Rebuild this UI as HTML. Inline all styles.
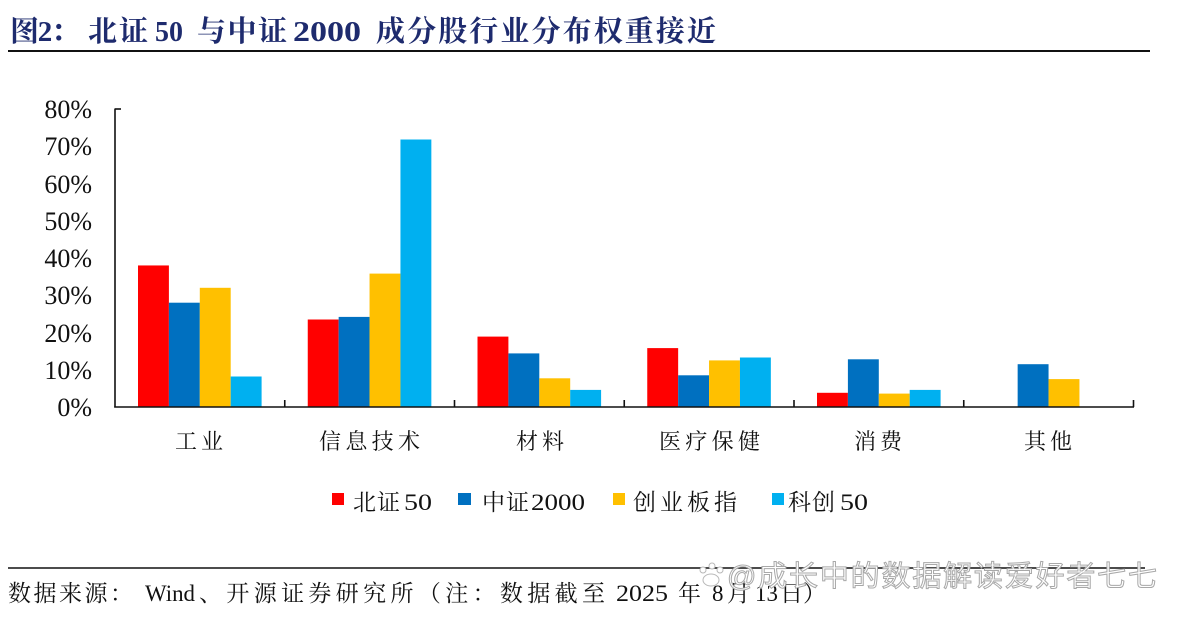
<!DOCTYPE html>
<html>
<head>
<meta charset="utf-8">
<style>
  html, body { margin:0; padding:0; background:#ffffff; }
  svg { display:block; }
  .serif { font-family: "Liberation Serif", "Noto Serif CJK SC", serif; }
  .cjk { font-family: "Liberation Serif", "Noto Serif CJK SC", serif; }
</style>
</head>
<body>
<svg width="1181" height="620" viewBox="0 0 1181 620" xmlns="http://www.w3.org/2000/svg">
  <rect x="0" y="0" width="1181" height="620" fill="#ffffff"/>

  <!-- Title -->
  <g class="cjk" font-size="29" font-weight="bold" fill="#1E2B6E">
    <text x="10" y="41" textLength="70" lengthAdjust="spacing">图2：</text>
    <text x="88" y="41" textLength="60" lengthAdjust="spacing">北证</text>
    <text x="155" y="41" textLength="28" lengthAdjust="spacingAndGlyphs">50</text>
    <text x="197" y="41" textLength="90" lengthAdjust="spacing">与中证</text>
    <text x="293" y="41" textLength="68" lengthAdjust="spacingAndGlyphs">2000</text>
    <text x="376" y="41" textLength="340" lengthAdjust="spacing">成分股行业分布权重接近</text>
  </g>
  <line x1="8" y1="51" x2="1150" y2="51" stroke="#111" stroke-width="2"/>

  <!-- Y axis labels -->
  <g class="serif" font-size="26" fill="#111" text-anchor="end">
    <text x="92" y="118">80%</text>
    <text x="92" y="155">70%</text>
    <text x="92" y="193">60%</text>
    <text x="92" y="230">50%</text>
    <text x="92" y="267">40%</text>
    <text x="92" y="304">30%</text>
    <text x="92" y="342">20%</text>
    <text x="92" y="379">10%</text>
    <text x="92" y="416">0%</text>
  </g>

  <!-- Bars -->
  <g>
    <rect x="138" y="265.45" width="30.9" height="141.55" fill="#FF0000"/>
    <rect x="168.9" y="302.7" width="30.9" height="104.3" fill="#0070C0"/>
    <rect x="199.8" y="287.8" width="30.9" height="119.2" fill="#FFC000"/>
    <rect x="230.7" y="376.5" width="30.9" height="30.5" fill="#00B0F0"/>

    <rect x="307.75" y="319.5" width="30.9" height="87.5" fill="#FF0000"/>
    <rect x="338.65" y="316.9" width="30.9" height="90.1" fill="#0070C0"/>
    <rect x="369.55" y="273.6" width="30.9" height="133.4" fill="#FFC000"/>
    <rect x="400.45" y="139.5" width="30.9" height="267.5" fill="#00B0F0"/>

    <rect x="477.5" y="336.6" width="30.9" height="70.4" fill="#FF0000"/>
    <rect x="508.4" y="353.4" width="30.9" height="53.6" fill="#0070C0"/>
    <rect x="539.3" y="378.3" width="30.9" height="28.7" fill="#FFC000"/>
    <rect x="570.2" y="389.9" width="30.9" height="17.1" fill="#00B0F0"/>

    <rect x="647.25" y="348.1" width="30.9" height="58.9" fill="#FF0000"/>
    <rect x="678.15" y="375.3" width="30.9" height="31.7" fill="#0070C0"/>
    <rect x="709.05" y="360.4" width="30.9" height="46.6" fill="#FFC000"/>
    <rect x="739.95" y="357.5" width="30.9" height="49.5" fill="#00B0F0"/>

    <rect x="817" y="392.8" width="30.9" height="14.2" fill="#FF0000"/>
    <rect x="847.9" y="359.3" width="30.9" height="47.7" fill="#0070C0"/>
    <rect x="878.8" y="393.6" width="30.9" height="13.4" fill="#FFC000"/>
    <rect x="909.7" y="389.9" width="30.9" height="17.1" fill="#00B0F0"/>

    <rect x="1017.65" y="364.2" width="30.9" height="42.8" fill="#0070C0"/>
    <rect x="1048.55" y="379.1" width="30.9" height="27.9" fill="#FFC000"/>
  </g>

  <!-- Axes -->
  <g stroke="#111" stroke-width="1.6" fill="none">
    <line x1="115" y1="108.5" x2="115" y2="407.5"/>
    <line x1="115" y1="109" x2="121" y2="109"/>
    <line x1="114.2" y1="407" x2="1134" y2="407"/>
    <line x1="284.75" y1="400" x2="284.75" y2="407"/>
    <line x1="454.5" y1="400" x2="454.5" y2="407"/>
    <line x1="624.25" y1="400" x2="624.25" y2="407"/>
    <line x1="794" y1="400" x2="794" y2="407"/>
    <line x1="963.75" y1="400" x2="963.75" y2="407"/>
    <line x1="1133.5" y1="400" x2="1133.5" y2="407"/>
  </g>

  <!-- Category labels -->
  <g class="cjk" font-size="22" fill="#111">
    <text x="175" y="449" textLength="48" lengthAdjust="spacing">工业</text>
    <text x="319" y="449" textLength="101" lengthAdjust="spacing">信息技术</text>
    <text x="516" y="449" textLength="48" lengthAdjust="spacing">材料</text>
    <text x="659" y="449" textLength="101" lengthAdjust="spacing">医疗保健</text>
    <text x="854" y="449" textLength="48" lengthAdjust="spacing">消费</text>
    <text x="1024" y="449" textLength="48" lengthAdjust="spacing">其他</text>
  </g>

  <!-- Legend -->
  <g class="cjk" font-size="23" fill="#111">
    <rect x="332" y="493" width="12" height="12" fill="#FF0000"/>
    <text x="353" y="510" textLength="47" lengthAdjust="spacing">北证</text>
    <text x="404" y="510" textLength="28" lengthAdjust="spacingAndGlyphs">50</text>
    <rect x="458" y="493" width="13" height="12" fill="#0070C0"/>
    <text x="482" y="510" textLength="47" lengthAdjust="spacing">中证</text>
    <text x="531" y="510" textLength="54" lengthAdjust="spacingAndGlyphs">2000</text>
    <rect x="613" y="493" width="12" height="12" fill="#FFC000"/>
    <text x="633" y="510" textLength="104" lengthAdjust="spacing">创业板指</text>
    <rect x="772" y="493" width="12" height="12" fill="#00B0F0"/>
    <text x="788" y="510" textLength="47" lengthAdjust="spacing">科创</text>
    <text x="840" y="510" textLength="28" lengthAdjust="spacingAndGlyphs">50</text>
  </g>

  <!-- Footer -->
  <line x1="8" y1="568" x2="1145" y2="568" stroke="#111" stroke-width="1.6"/>
  <g class="cjk" font-size="23" fill="#111">
    <text x="8" y="601" textLength="125" lengthAdjust="spacing">数据来源：</text>
    <text x="145" y="601" textLength="50" lengthAdjust="spacingAndGlyphs">Wind</text>
    <text x="199" y="601" textLength="406" lengthAdjust="spacing">、开源证券研究所（注：数据截至</text>
    <text x="616" y="601" textLength="52" lengthAdjust="spacingAndGlyphs">2025</text>
    <text x="678" y="601">年</text>
    <text x="712" y="601">8</text>
    <text x="727" y="601">月</text>
    <text x="755" y="601">13</text>
    <text x="780" y="601">日）</text>
  </g>

  <!-- Watermark -->
  <g fill="#ffffff" stroke="#b8b8b8" stroke-width="1">
    <circle cx="703" cy="570" r="3"/>
    <circle cx="712" cy="566" r="3"/>
    <circle cx="720" cy="570" r="3"/>
    <ellipse cx="711" cy="580" rx="8" ry="6"/>
  </g>
  <text x="727" y="586" font-family="'Liberation Sans', 'Noto Sans CJK SC', sans-serif" font-size="29" fill="#ffffff" stroke="#a8a8a8" stroke-width="1" textLength="430" lengthAdjust="spacing">@成长中的数据解读爱好者七七</text>
</svg>
</body>
</html>
